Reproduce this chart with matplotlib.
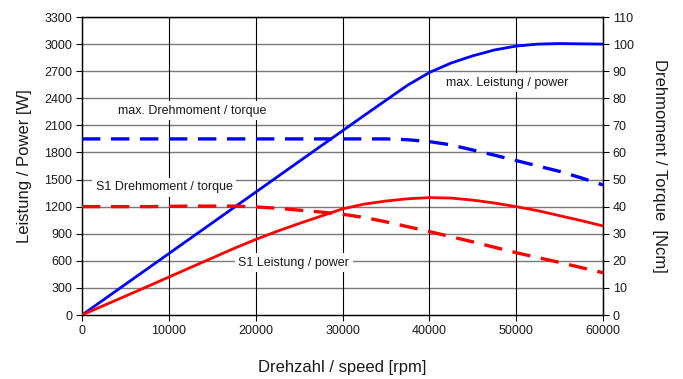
import matplotlib
matplotlib.use("Agg")
import matplotlib.pyplot as plt

plt.rcParams['font.family'] = ['Liberation Sans', 'DejaVu Sans']

# ---------------- data ----------------
speed = [0, 2500, 5000, 7500, 10000, 12500, 15000, 17500, 20000,
         22500, 25000, 27500, 30000, 32500, 35000, 37500, 40000,
         42500, 45000, 47500, 50000, 52500, 55000, 57500, 60000]

# power in W (left axis)
max_power = [0, 170, 340, 510, 680, 850, 1020, 1190, 1360,
             1530, 1700, 1870, 2040, 2210, 2378, 2545, 2685,
             2790, 2870, 2935, 2978, 3000, 3006, 3003, 3000]
s1_power = [0, 105, 209, 314, 420, 526, 631, 737, 836,
            928, 1013, 1094, 1175, 1228, 1262, 1287, 1300,
            1295, 1272, 1240, 1200, 1155, 1100, 1045, 986]

# torque in Ncm (right axis)
max_torque = [65, 65, 65, 65, 65, 65, 65, 65, 65,
              65, 65, 65, 65, 65, 65, 64.7, 64.0,
              62.8, 60.9, 59.0, 57.0, 55.0, 53.0, 50.6, 48.0]
s1_torque = [40, 40, 40, 40, 40.1, 40.2, 40.2, 40.2, 39.9,
             39.4, 38.7, 38.0, 37.2, 36.0, 34.4, 32.6, 30.8,
             28.9, 27.0, 25.0, 23.0, 21.2, 19.4, 17.5, 15.6]

x_ticks = [0, 10000, 20000, 30000, 40000, 50000, 60000]
power_ticks = list(range(0, 3301, 300))
torque_ticks = list(range(0, 111, 10))

# label text, x [rpm], y [W]
labels = [
    ("max. Drehmoment / torque", 12700, 2260),
    ("max. Leistung / power", 49000, 2570),
    ("S1 Drehmoment / torque", 9450, 1417),
    ("S1 Leistung / power", 24400, 576),
]

# ---------------- figure ----------------
fig = plt.figure(figsize=(6.83, 3.79), dpi=100)
ax = fig.add_axes([82/683, 64/379, 521/683, 298/379])
ax2 = ax.twinx()

ax.set_xlim(0, 60000)
ax.set_ylim(0, 3300)
ax2.set_ylim(0, 110)

ax.set_xticks(x_ticks)
ax.set_yticks(power_ticks)
ax2.set_yticks(torque_ticks)

for a in (ax, ax2):
    a.tick_params(labelsize=9, length=4, width=0.8, colors='black',
                  labelcolor='#1a1a1a', pad=3)
    for s in a.spines.values():
        s.set_linewidth(0.9)

# grid: gray horizontals, black verticals
for y in power_ticks[1:]:
    ax.axhline(y, color='#7a7a7a', lw=1.0, zorder=1)
for x in x_ticks[1:]:
    ax.axvline(x, color='black', lw=0.8, zorder=1)

dash = (0, (5.5, 3.2))
ax.plot(speed, max_power, color='#0000ff', lw=2.0, zorder=3)
ax2.plot(speed, max_torque, color='#0000ff', lw=2.4, ls=dash, zorder=3)
ax2.plot(speed, s1_torque, color='#ff0000', lw=2.4, ls=dash, zorder=3)
# S1 power is on the left scale; draw on ax2 so it sits on top
ax2.plot(speed, [p * 110 / 3300 for p in s1_power],
         color='#ff0000', lw=2.0, zorder=4)

for text, x, y in labels:
    ax2.text(x, y * 110 / 3300, text, fontsize=9, color='#1a1a1a',
             ha='center', va='center', zorder=5,
             bbox=dict(facecolor='white', edgecolor='none', pad=2.5))

ax.set_xlabel("Drehzahl / speed [rpm]", fontsize=12, color='#1a1a1a', labelpad=17)
ax.set_ylabel("Leistung / Power [W]", fontsize=12, color='#1a1a1a', labelpad=9)
ax2.set_ylabel("Drehmoment / Torque  [Ncm]", fontsize=12, color='#1a1a1a',
               rotation=270, labelpad=24)

fig.savefig("out.png", dpi=100)
